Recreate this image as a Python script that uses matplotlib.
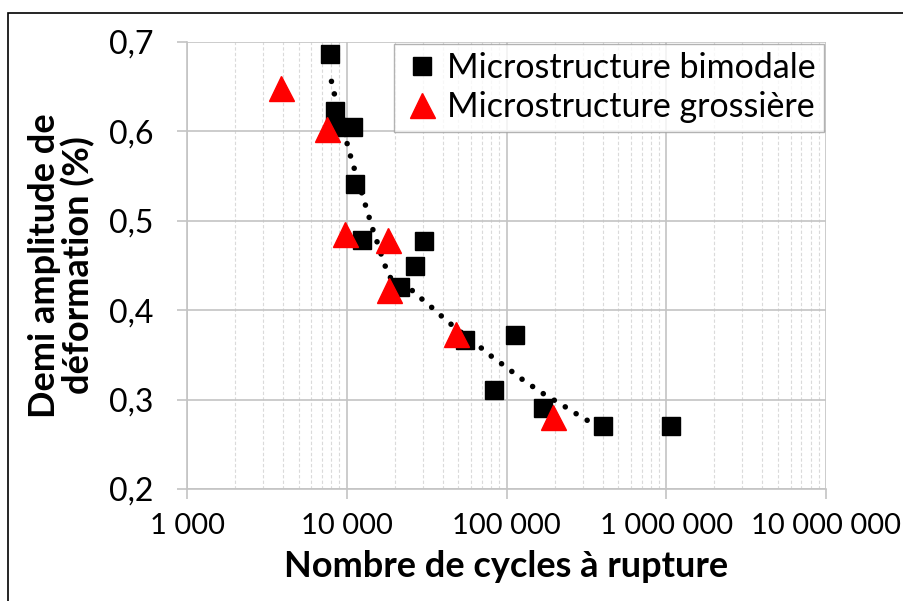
import matplotlib.pyplot as plt
from matplotlib.patches import Rectangle
from matplotlib.ticker import FixedLocator, LogLocator, NullFormatter

plt.rcParams['font.family'] = ['Lato', 'DejaVu Sans']

# microstructure bimodale
bimodal_n = [7900, 8400, 8600, 10900, 11300, 12500, 21400, 26900, 30400,
             54600, 83300, 113800, 168700, 400000, 1070000]
bimodal_eps = [0.687, 0.623, 0.605, 0.605, 0.541, 0.479, 0.426, 0.449, 0.477,
               0.367, 0.311, 0.372, 0.291, 0.270, 0.270]

# microstructure grossière
coarse_n = [3900, 7470, 9720, 18120, 18380, 48000, 196600]
coarse_eps = [0.649, 0.603, 0.485, 0.478, 0.423, 0.373, 0.281]

# courbe de tendance (pointillés)
trend_n = [8020, 8414, 9810, 10290, 10860, 12960, 13590, 14390, 15340, 16240,
           17280, 18300, 20600, 24760, 29300, 34600, 40550, 48000, 67100,
           78300, 91700, 107000, 124600, 144700, 168500, 228000, 262000,
           303000, 346000]
trend_eps = [0.656, 0.640, 0.594, 0.579, 0.565, 0.520, 0.508, 0.493, 0.4785,
             0.465, 0.451, 0.438, 0.431, 0.4245, 0.413, 0.402, 0.391, 0.380,
             0.360, 0.350, 0.341, 0.332, 0.323, 0.315, 0.307, 0.293, 0.286,
             0.2795, 0.273]

x_ticks = [1e3, 1e4, 1e5, 1e6, 1e7]
x_labels = ['1 000', '10 000', '100 000', '1 000 000', '10 000 000']
y_ticks = [0.2, 0.3, 0.4, 0.5, 0.6, 0.7]
y_labels = ['0,2', '0,3', '0,4', '0,5', '0,6', '0,7']

fig = plt.figure(figsize=(9.04, 6.01), dpi=100)
ax = fig.add_axes([0.2069, 0.1864, 0.7068, 0.7437])

# cadre du graphique (coupé à droite et en bas)
fig.patches.append(Rectangle((8 / 904, -0.1), 1.2, 1 - 13 / 601 + 0.1,
                             transform=fig.transFigure, fill=False,
                             edgecolor='black', linewidth=1.2))

ax.plot(trend_n, trend_eps, color='black', linewidth=4.0,
        linestyle=(0, (0.01, 2.3)), dash_capstyle='round', zorder=2)
ax.plot(bimodal_n, bimodal_eps, linestyle='none', marker='s', markersize=13.5,
        color='black', label='Microstructure bimodale', zorder=3)
ax.plot(coarse_n, coarse_eps, linestyle='none', marker='^', markersize=18,
        color='#FF0000', label='Microstructure grossière', zorder=4)

ax.set_xscale('log')
ax.set_xlim(1e3, 1e7)
ax.set_ylim(0.2, 0.7)
ax.xaxis.set_major_locator(FixedLocator(x_ticks))
ax.set_xticklabels(x_labels)
ax.xaxis.set_minor_locator(LogLocator(base=10, subs=range(2, 10)))
ax.xaxis.set_minor_formatter(NullFormatter())
ax.set_yticks(y_ticks)
ax.set_yticklabels(y_labels)

ax.grid(which='major', color='#C4C4C4', linewidth=1.2, zorder=0)
ax.grid(which='minor', axis='x', color='#DADADA', linewidth=0.8,
        linestyle=(0, (3, 2)), zorder=0)
ax.set_axisbelow(True)

for side in ['top', 'right']:
    ax.spines[side].set_visible(False)
for side in ['left', 'bottom']:
    ax.spines[side].set_color('#C4C4C4')
    ax.spines[side].set_linewidth(1.2)

ax.tick_params(axis='both', which='major', length=7, width=1.2,
               color='#C4C4C4')
ax.tick_params(axis='y', which='major', pad=17, labelsize=23)
ax.tick_params(axis='x', which='major', pad=10, labelsize=21)
ax.tick_params(axis='x', which='minor', length=0)

ax.set_xlabel('Nombre de cycles à rupture', fontsize=26, fontweight='bold',
              labelpad=8)
ax.set_ylabel('Demi amplitude de\ndéformation (%)', fontsize=26,
              fontweight='bold', labelpad=10, linespacing=1.0)

leg = ax.legend(loc='upper right', fontsize=24.5, frameon=True, fancybox=False,
                handletextpad=0.2, borderpad=0.25, labelspacing=0.2,
                handlelength=1.1, borderaxespad=0.05)
leg.get_frame().set_edgecolor('#A0A0A0')
leg.get_frame().set_linewidth(1.0)

fig.savefig('out.png', dpi=100)
